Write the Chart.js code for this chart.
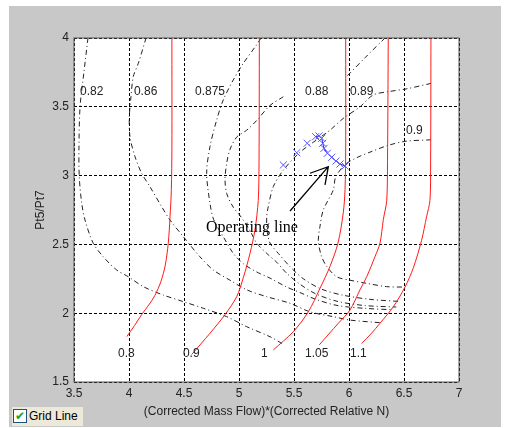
<!DOCTYPE html>
<html lang="en">
    <head>
        <meta charset="UTF-8" />
        <title>Compressor map with operating line</title>
        <script src="https://cdn.jsdelivr.net/npm/chart.js"></script>
        <style>
            body {
                margin: 0;
                background: #fff;
            }
            #wrap {
                position: relative;
                width: 505px;
                height: 428px;
            }
            #mapChart {
                display: block;
            }
            #grid-toggle {
                position: absolute;
                left: 12px;
                top: 407px;
                width: 71px;
                height: 19px;
                background: #ece9d8;
                font: 12px Arial, "Liberation Sans", sans-serif;
                color: #000;
                line-height: 19px;
            }
            #grid-toggle .box {
                position: absolute;
                left: 1px;
                top: 2px;
                width: 12px;
                height: 12px;
                border: 1px solid #1c5180;
                background: #fff;
                color: #21a121;
                font: bold 12px "DejaVu Sans", sans-serif;
                line-height: 12px;
                text-align: center;
            }
            #grid-toggle .txt {
                position: absolute;
                left: 17px;
                top: 0;
            }
        </style>
    </head>
    <body>
        <div id="wrap">
            <canvas id="mapChart" width="505" height="428"></canvas>
            <div id="grid-toggle"><span class="box">✔</span><span class="txt">Grid Line</span></div>
        </div>

        <script>
            // corrected speed lines (red)
            const speed080 = [[3.98,1.83],[4.05,1.91],[4.115,1.99],[4.18,2.06],[4.236,2.13],[4.29,2.23],[4.33,2.35],[4.357,2.51],[4.373,2.70],[4.385,2.9],[4.39,3.2],[4.39,4.0]];
            const speed090 = [[4.57,1.70],[4.736,1.854],[4.873,1.99],[4.979,2.12],[5.04,2.26],[5.1,2.435],[5.145,2.605],[5.175,2.82],[5.182,3.1],[5.185,4.0]];
            const speed100 = [[5.312,1.733],[5.494,1.866],[5.63,2.01],[5.736,2.18],[5.827,2.34],[5.90,2.51],[5.948,2.73],[5.964,2.9],[5.97,3.2],[5.97,4.0]];
            const speed105 = [[5.73,1.77],[5.903,1.927],[6.009,2.023],[6.1,2.17],[6.161,2.265],[6.236,2.41],[6.282,2.51],[6.312,2.68],[6.343,2.82],[6.35,3.1],[6.357,4.0]];
            const speed110 = [[6.115,1.78],[6.2,1.85],[6.282,1.927],[6.403,2.047],[6.509,2.19],[6.585,2.33],[6.66,2.53],[6.705,2.70],[6.736,2.82],[6.742,3.1],[6.745,4.0]];
            const speedNames = ["0.8", "0.9", "1", "1.05", "1.1"];
            const speedLabelAt = [[3.9,1.703],[4.49,1.703],[5.2,1.703],[5.6,1.703],[6.009,1.703]];

            // efficiency contours (dash-dot); null y = break for the label
            const eff082 = [[3.627,4.0],[3.59,3.75],[3.555,3.5],[3.545,3.2],[3.548,2.99],[3.57,2.8],[3.6,2.677],[3.675,2.508],[3.766,2.41],[3.888,2.314],[3.994,2.265],[4.13,2.193],[4.312,2.132],[4.494,2.084],[4.675,2.036],[4.888,1.975],[5.07,1.902],[5.282,1.829],[5.39,1.78]];
            const eff086 = [[4.155,4.0],[4.085,3.816],[4.039,3.72],[4.018,3.573],[4.003,3.43],[4.009,3.28],[4.055,3.137],[4.115,3.017],[4.19,2.92],[4.297,2.774],[4.373,2.677],[4.494,2.556],[4.645,2.41],[4.766,2.314],[4.918,2.24],[5.07,2.17],[5.252,2.12],[5.464,2.072],[5.645,2.01],[5.857,1.975],[6.009,1.95],[6.297,1.93]];
            const eff0875 = [[5.2,4.0],[5.16,3.95],[5.039,3.816],[4.948,3.695],[4.857,3.55],[4.797,3.404],[4.736,3.21],[4.706,3.017],[4.736,2.80],[4.77,2.68],[4.857,2.556],[4.948,2.435],[5.039,2.36],[5.16,2.30],[5.282,2.255],[5.434,2.19],[5.555,2.15],[5.7,2.1],[5.9,2.055],[6.15,2.035],[6.40,2.025]];
            const eff088 = [[6.327,4.0],[6.15,3.86],[5.979,3.72],[5.7,null],[5.403,3.573],[5.282,3.51],[5.16,3.40],[5.07,3.33],[4.979,3.28],[4.918,3.19],[4.888,3.09],[4.873,2.97],[4.888,2.87],[4.948,2.77],[5.009,2.71],[5.1,2.60],[5.16,2.51],[5.252,2.435],[5.343,2.37],[5.434,2.29],[5.555,2.21],[5.7,2.14],[5.9,2.085],[6.15,2.055],[6.43,2.045]];
            const eff089 = [[6.745,3.67],[6.52,3.63],[6.357,3.61],[6.22,3.586],[6.1,3.5],[5.948,3.416],[5.827,3.33],[5.706,3.26],[5.555,3.17],[5.403,3.04],[5.312,2.92],[5.266,2.774],[5.252,2.70],[5.255,2.605],[5.282,2.51],[5.357,2.435],[5.464,2.338],[5.585,2.25],[5.75,2.175],[5.95,2.13],[6.2,2.1],[6.47,2.085]];
            const eff090 = [[6.745,3.26],[6.52,3.25],[6.357,3.22],[6.19,3.17],[6.07,3.13],[5.964,3.08],[5.879,2.99],[5.857,2.895],[5.766,2.75],[5.736,2.63],[5.721,2.52],[5.752,2.41],[5.797,2.34],[5.888,2.265],[6.009,2.24],[6.161,2.217],[6.343,2.193],[6.509,2.19]];
            const effNames = ["0.82", "0.86", "0.875", "0.88", "0.89", "0.9"];
            const effLabelAt = [[3.555,3.608],[4.045,3.608],[4.6,3.608],[5.6,3.608],[6.009,3.608],[6.518,3.324]];

            // operating line points
            const opX = [5.403, 5.525, 5.62, 5.697, 5.727, 5.752, 5.761, 5.773, 5.803, 5.843, 5.882, 5.918, 5.964];
            const opY = [3.077, 3.166, 3.235, 3.283, 3.288, 3.271, 3.235, 3.198, 3.162, 3.133, 3.106, 3.084, 3.07];

            // annotation arrow: tail, head, two barbs
            const arrowPts = [[5.464,2.743],[5.812,3.065],[5.645,3.017],[5.782,2.932]];
            const arrowText = "Operating line";

            const FONT = 'Arial, "Liberation Sans", sans-serif';
            const pts = (arr) => arr.map(([x, y]) => ({ x, y }));

            const speedSets = [speed080, speed090, speed100, speed105, speed110].map((s) => ({
                data: pts(s),
                borderColor: "#ff1a1a",
                borderWidth: 1,
                pointRadius: 0,
                tension: 0.3,
                order: 2,
            }));
            const effSets = [eff082, eff086, eff0875, eff088, eff089, eff090].map((s) => ({
                data: pts(s),
                borderColor: "#222",
                borderWidth: 1,
                borderDash: [5, 3, 1, 3],
                pointRadius: 0,
                tension: 0.3,
                order: 3,
            }));
            const opSet = {
                data: opX.map((x, i) => ({ x, y: opY[i] })),
                borderColor: "#2020ff",
                borderWidth: 1,
                pointStyle: "crossRot",
                pointRadius: 5,
                pointBorderColor: "#5a5aff",
                pointBorderWidth: 1,
                tension: 0,
                order: 1,
                segment: {
                    borderColor: (c) => (c.p0DataIndex < 3 ? "transparent" : "#2020ff"),
                },
            };

            const decor = {
                id: "decor",
                beforeDraw(chart) {
                    const { ctx, chartArea: a } = chart;
                    ctx.save();
                    ctx.fillStyle = "#fff";
                    ctx.fillRect(0, 0, chart.width, chart.height);
                    ctx.fillStyle = "#c8c8c8";
                    ctx.fillRect(9, 6, 492, 421);
                    ctx.fillStyle = "#fff";
                    ctx.fillRect(a.left, a.top, a.right - a.left, a.bottom - a.top);
                    ctx.restore();
                },
                afterDatasetsDraw(chart) {
                    const { ctx, chartArea: a } = chart;
                    const sx = chart.scales.x, sy = chart.scales.y;
                    ctx.save();
                    ctx.fillStyle = "#222";
                    ctx.font = "12px " + FONT;
                    ctx.textAlign = "left";
                    ctx.textBaseline = "middle";
                    effNames.forEach((t, i) => {
                        ctx.fillText(t, sx.getPixelForValue(effLabelAt[i][0]), sy.getPixelForValue(effLabelAt[i][1]));
                    });
                    speedNames.forEach((t, i) => {
                        ctx.fillText(t, sx.getPixelForValue(speedLabelAt[i][0]), sy.getPixelForValue(speedLabelAt[i][1]));
                    });
                    // arrow
                    const p = arrowPts.map(([x, y]) => [sx.getPixelForValue(x), sy.getPixelForValue(y)]);
                    ctx.strokeStyle = "#000";
                    ctx.lineWidth = 1.3;
                    ctx.beginPath();
                    ctx.moveTo(p[0][0], p[0][1]);
                    ctx.lineTo(p[1][0], p[1][1]);
                    ctx.moveTo(p[2][0], p[2][1]);
                    ctx.lineTo(p[1][0], p[1][1]);
                    ctx.lineTo(p[3][0], p[3][1]);
                    ctx.stroke();
                    ctx.fillStyle = "#000";
                    ctx.font = '16px "Liberation Serif", "Times New Roman", serif';
                    ctx.textAlign = "left";
                    ctx.textBaseline = "alphabetic";
                    ctx.fillText(arrowText, 206, 232);
                    // axes frame
                    ctx.strokeStyle = "#555";
                    ctx.lineWidth = 1;
                    ctx.setLineDash([]);
                    ctx.strokeRect(a.left, a.top, a.right - a.left, a.bottom - a.top);
                    ctx.restore();
                },
            };

            const ctx = document.getElementById("mapChart").getContext("2d");
            const mapChart = new Chart(ctx, {
                type: "line",
                data: { datasets: [...effSets, ...speedSets, opSet] },
                options: {
                    responsive: false,
                    animation: false,
                    devicePixelRatio: 1,
                    layout: { padding: { left: 0, top: 38, right: 46, bottom: 0 } },
                    plugins: {
                        legend: { display: false },
                        tooltip: { enabled: false },
                    },
                    scales: {
                        x: {
                            type: "linear",
                            min: 3.5,
                            max: 7,
                            afterFit: (s) => { s.height = 46; },
                            ticks: {
                                stepSize: 0.5,
                                padding: 4,
                                color: "#222",
                                maxRotation: 0,
                                autoSkip: false,
                                font: { family: FONT, size: 12 },
                                callback: (v) => String(+v.toFixed(2)),
                            },
                            grid: { color: "#000", lineWidth: 1, drawTicks: false },
                            border: { display: false, dash: [3, 2] },
                            title: {
                                display: true,
                                text: "(Corrected Mass Flow)*(Corrected Relative N)",
                                color: "#222",
                                font: { family: FONT, size: 12 },
                                padding: { top: 0, bottom: 9 },
                            },
                        },
                        y: {
                            type: "linear",
                            min: 1.5,
                            max: 4,
                            afterFit: (s) => { s.width = 74; },
                            ticks: {
                                stepSize: 0.5,
                                padding: 5,
                                color: "#222",
                                font: { family: FONT, size: 12 },
                                callback: (v) => String(+v.toFixed(2)),
                            },
                            grid: { color: "#000", lineWidth: 1, drawTicks: false },
                            border: { display: false, dash: [3, 2] },
                            title: {
                                display: true,
                                text: "Pt5/Pt7",
                                color: "#222",
                                font: { family: FONT, size: 12 },
                                padding: { top: 33, bottom: 0 },
                            },
                        },
                    },
                },
                plugins: [decor],
            });
        </script>
    </body>
</html>
